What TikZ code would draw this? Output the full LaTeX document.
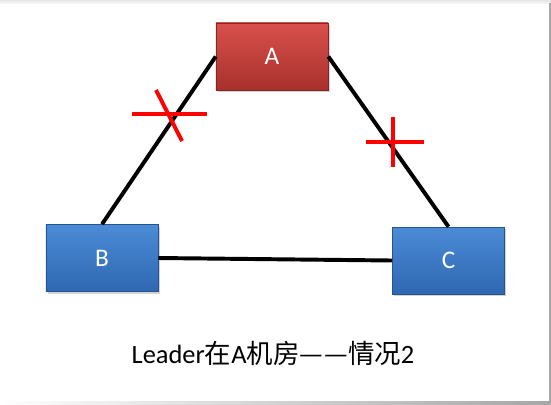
\documentclass[tikz,border=0pt]{standalone}
\usepackage{fontspec}
\setmainfont{Carlito}
\newfontfamily\cjk{Noto Sans CJK SC}
\usetikzlibrary{shadows}
\definecolor{rojoarriba}{HTML}{D9504B}
\definecolor{rojoabajo}{HTML}{A8302C}
\definecolor{azularriba}{HTML}{4C8BD6}
\definecolor{azulabajo}{HTML}{2F68B2}

\begin{document}
\begin{tikzpicture}[x=0.025cm,y=-0.025cm]
%----------estilos---------
\tikzset{sala/.style={
rectangle,
minimum width=2.8cm,
minimum height=1.675cm,
inner sep=0pt,
text=white,
font=\fontsize{18}{20}\selectfont,
drop shadow={shadow xshift=0.4mm,shadow yshift=-0.6mm,opacity=0.35}},
salaroja/.style={sala,top color=rojoarriba,bottom color=rojoabajo,draw=rojoabajo!80!black,line width=0.4pt},
salaazul/.style={sala,top color=azularriba,bottom color=azulabajo,draw=azulabajo!80!black,line width=0.4pt},
enlace/.style={line width=2.8pt,black},
corte/.style={line width=2.8pt,red}};

%----------fondo---------
\useasboundingbox (0,0) rectangle (551,404);
\fill[white] (0,0) rectangle (551,404);
\shade[top color=gray!20,bottom color=gray!8] (0,0) rectangle (551,3);
\fill[gray!70] (548.5,3) rectangle (551,404);
\shade[left color=white,right color=gray!70] (0,401.5) rectangle (551,404);

%----------salas---------
\node [salaroja] (A) at (272,56.5) {A};
\node [salaazul] (B) at (102,258) {B};
\node [salaazul] (C) at (448.5,260.5) {C};

%----------enlaces---------
\draw [enlace] (A.west)--(B.north);
\draw [enlace] (A.east)--(C.north);
\draw [enlace] (B.east)--(C.west);

%----------cortes---------
\draw [corte] (132,114)--(207,114);
\draw [corte] (156,90)--(182,141);
\draw [corte] (366,142)--(424,142);
\draw [corte] (393,117)--(393,167);

%----------leyenda---------
\node (leyenda) at (273,353) {\fontsize{18.8}{21}\selectfont Leader{\cjk 在}A{\cjk 机房—\kern0.05em—情况}2};
\end{tikzpicture}
\end{document}
